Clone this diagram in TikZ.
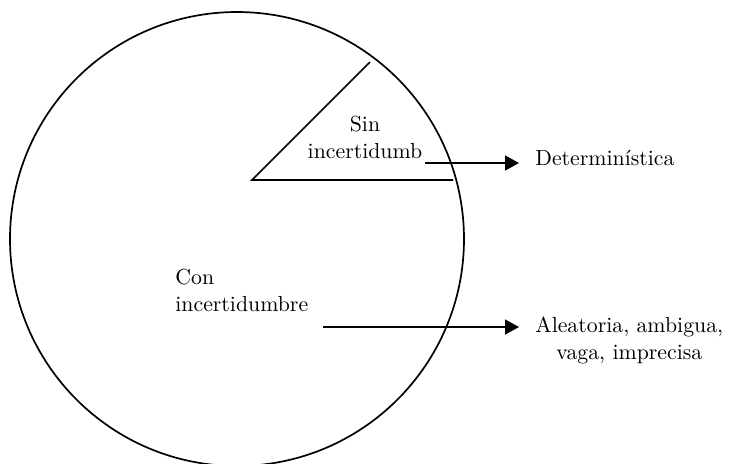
\documentclass[tikz,border=0pt]{standalone}
\usetikzlibrary{arrows.meta}
\begin{document}
\begin{tikzpicture}[x=0.5pt, y=-0.5pt,
    linea/.style={line width=0.85pt},
    flecha/.style={line width=0.85pt, -{Triangle[length=7pt, width=7.5pt]}},
    texto/.style={font=\fontsize{10.9}{13.5}\selectfont, inner sep=0pt}]
  \def\rc{113.5pt} % circle radius

  % Fix the page size
  \useasboundingbox (0,0) rectangle (729,463);

  % Draw the big circle
  \coordinate (centro) at (237,239);
  \draw[linea] (centro) circle (\rc);

  % Draw the wedge
  \coordinate (vertice) at (252,180);
  \coordinate (diag) at (370,62);
  \coordinate (horiz) at (453,180);
  \draw[linea] (diag) -- (vertice) -- (horiz);

  % Labels inside the circle
  \node[texto, align=center] (sin) at (365,137) {Sin\\incertidumb};
  \node[texto, align=left, anchor=west] (con) at (175,290) {Con\\incertidumbre};

  % Labels outside the circle
  \node[texto, anchor=west, inner xsep=8pt] (det) at (519,158) {Determinística};
  \node[texto, align=center, anchor=west, inner xsep=8pt] (ale) at (519,340)
    {Aleatoria, ambigua,\\vaga, imprecisa};

  % Draw the arrows
  \coordinate (a1) at (425,163);
  \coordinate (a2) at (323,327);
  \draw[flecha] (a1) -- (a1 -| det.west);
  \draw[flecha] (a2) -- (a2 -| ale.west);
\end{tikzpicture}
\end{document}
